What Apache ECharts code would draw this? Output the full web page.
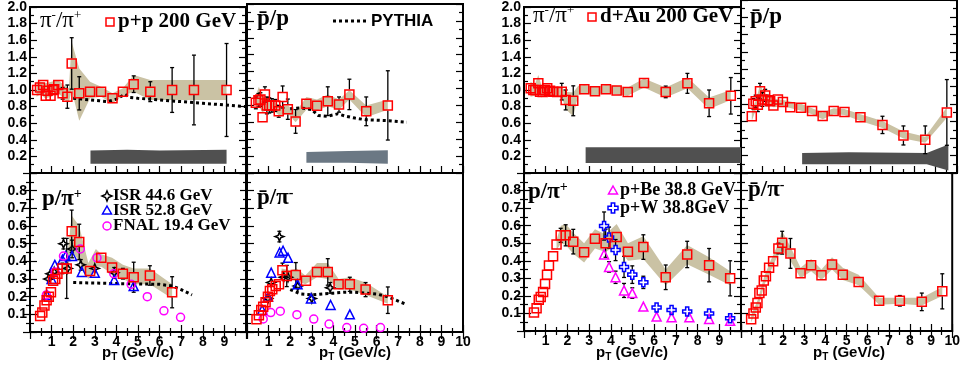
<!DOCTYPE html>
<html>
<head>
<meta charset="utf-8">
<script src="https://cdn.jsdelivr.net/npm/echarts@6/dist/echarts.min.js"></script>
<style>
  html, body { margin: 0; padding: 0; background: #fff; }
  #chart { width: 963px; height: 371px; }
</style>
</head>
<body>
<div id="chart"></div>
<script>
// ---------- data: [pT, ratio, stat error] ----------
// p+p 200 GeV
const ppPiRatio = [[0.33,1.00,0.04],[0.46,1.03,0.05],[0.61,1.06,0.05],[0.73,0.93,0.05],[0.81,0.99,0.05],[0.95,0.93,0.04],[1.05,1.00,0.06],[1.12,1.01,0.05],[1.31,1.06,0.06],[1.51,0.96,0.07],[1.73,0.92,0.14],[1.93,1.32,0.31],[2.28,0.96,0.2],[2.78,0.98,0.02],[3.29,0.98,0.02],[3.82,0.90,0.03],[4.30,0.98,0.04],[4.80,1.07,0.1],[5.57,0.98,0.12],[6.58,1.00,0.27],[7.59,1.00,0.42],[9.10,1.00,0.56]];
const ppPiBandX  = [0.3,0.5,0.7,1.0,1.3,1.6,1.8,1.93,2.28,2.78,3.29,3.82,4.3,4.8,5.57,6.58,7.59,9.1];
const ppPiBandHi = [1.10,1.10,1.08,1.10,1.12,1.05,1.02,1.58,1.26,1.10,1.04,0.96,1.02,1.18,1.12,1.12,1.12,1.12];
const ppPiBandLo = [0.92,0.95,0.90,0.92,0.97,0.88,0.85,1.00,0.63,0.90,0.92,0.84,0.93,0.98,0.88,0.88,0.88,0.88];
const ppPiNormX  = [2.8,4.5,6.0,9.1];
const ppPiNormHi = [0.27,0.28,0.27,0.28];
const ppPiNormLo = [0.11,0.11,0.11,0.11];
const pythiaPi = [[2.0,0.90],[2.4,0.89],[2.8,0.88],[3.2,0.87],[3.6,0.86],[4.0,0.89],[4.4,0.95],[4.6,0.91],[5.0,0.90],[6.0,0.88],[7.0,0.86],[8.0,0.84],[9.0,0.82],[10.0,0.80]];

const ppPbarP = [[0.41,0.83,0.07],[0.53,0.86,0.08],[0.62,0.87,0.08],[0.72,0.66,0.05],[0.83,0.93,0.09],[0.92,0.80,0.1],[1.03,0.80,0.09],[1.15,0.80,0.08],[1.31,0.80,0.07],[1.47,0.73,0.07],[1.65,0.90,0.13],[1.89,0.755,0.12],[2.25,0.61,0.14],[2.75,0.82,0.02],[3.24,0.795,0.02],[3.74,0.85,0.17],[4.26,0.81,0.09],[4.74,0.93,0.18],[5.52,0.73,0.17],[6.52,0.80,0.41]];
const ppPbarPBandX  = [0.41,0.55,0.7,0.9,1.2,1.5,1.9,2.25,2.75,3.24,3.74,4.26,4.74,5.52,6.52];
const ppPbarPBandHi = [0.92,1.02,0.92,0.88,0.86,0.80,0.80,0.72,0.90,0.87,0.93,0.87,0.98,0.80,0.87];
const ppPbarPBandLo = [0.76,0.80,0.72,0.74,0.74,0.68,0.70,0.60,0.75,0.74,0.79,0.75,0.87,0.66,0.75];
const ppPbarPNormX  = [2.75,4.7,6.52];
const ppPbarPNormHi = [0.25,0.26,0.27];
const ppPbarPNormLo = [0.12,0.12,0.11];
const pythiaPbarP = [[2.0,0.76],[2.5,0.77],[3.0,0.75],[3.3,0.68],[3.7,0.67],[4.2,0.70],[4.6,0.67],[5.0,0.65],[5.5,0.63],[6.5,0.62],[7.4,0.60]];

const ppPPi = [[0.47,0.091,0.006],[0.57,0.11,0.006],[0.67,0.15,0.008],[0.77,0.18,0.01],[0.87,0.20,0.01],[0.97,0.225,0.01],[1.07,0.29,0.015],[1.17,0.30,0.015],[1.27,0.33,0.02],[1.5,0.36,0.03],[1.7,0.36,0.17],[1.93,0.57,0.12],[2.28,0.51,0.1],[2.78,0.345,0.02],[3.3,0.42,0.02],[3.8,0.365,0.02],[4.3,0.33,0.03],[4.8,0.31,0.085],[5.55,0.32,0.055],[6.58,0.225,0.088]];
const ppPPiBandX  = [1.45,1.7,1.93,2.28,2.7,3.05,3.3,3.8,4.3,4.8,5.55,6.58];
const ppPPiBandHi = [0.38,0.40,0.66,0.60,0.39,0.47,0.44,0.42,0.38,0.36,0.36,0.27];
const ppPPiBandLo = [0.34,0.34,0.46,0.40,0.30,0.37,0.37,0.33,0.30,0.27,0.27,0.19];
const isr446PPi = [[0.85,0.30,0.02],[0.95,0.33,0.02],[1.12,0.34,0.02],[1.55,0.50,0.03],[1.75,0.36,0.02],[1.95,0.47,0.05],[2.35,0.38,0.03],[3.0,0.36,0.02],[3.9,0.335,0.03]];
const isr528PPi = [[0.78,0.21],[1.0,0.30],[1.15,0.38],[1.5,0.41],[1.65,0.43],[1.95,0.43],[2.4,0.34],[3.0,0.335],[3.9,0.295],[4.8,0.26]];
const fnalPPi = [[0.76,0.21],[1.16,0.34],[1.55,0.43],[2.33,0.47],[3.1,0.42],[3.88,0.33],[4.68,0.27],[5.43,0.20],[6.2,0.12],[6.97,0.083]];
const pythiaPPi = [[2.0,0.28],[3.0,0.277],[4.0,0.274],[5.0,0.272],[6.0,0.27],[6.6,0.26],[7.0,0.24],[7.5,0.21]];

const ppPbarPi = [[0.44,0.072,0.005],[0.55,0.095,0.006],[0.66,0.125,0.008],[0.75,0.143,0.008],[0.86,0.168,0.01],[0.97,0.20,0.01],[1.06,0.232,0.012],[1.17,0.242,0.012],[1.33,0.26,0.015],[1.48,0.27,0.02],[1.64,0.35,0.04],[1.84,0.317,0.06],[2.26,0.323,0.07],[2.73,0.29,0.01],[3.24,0.34,0.01],[3.74,0.34,0.075],[4.24,0.27,0.02],[4.76,0.27,0.04],[5.49,0.24,0.04],[6.52,0.18,0.075]];
const ppPbarPiBandX  = [1.6,2.0,2.3,2.7,3.24,3.74,4.24,4.76,5.49,6.52];
const ppPbarPiBandHi = [0.36,0.35,0.36,0.32,0.39,0.39,0.30,0.31,0.28,0.20];
const ppPbarPiBandLo = [0.32,0.30,0.29,0.27,0.31,0.30,0.24,0.24,0.21,0.16];
const isr446PbarPi = [[0.97,0.19,0.01],[1.12,0.28,0.015],[1.5,0.54,0.03],[1.7,0.31,0.02],[1.9,0.31,0.02],[2.35,0.26,0.02],[3.0,0.19,0.02],[3.85,0.25,0.03]];
const isr528PbarPi = [[0.7,0.125],[0.97,0.20],[1.12,0.336],[1.51,0.45],[1.67,0.46],[1.9,0.42],[2.34,0.27],[2.96,0.19],[3.87,0.153],[4.76,0.10]];
const fnalPbarPi = [[0.75,0.074],[1.1,0.11],[1.54,0.118],[2.31,0.098],[3.09,0.073],[3.8,0.045],[4.62,0.025],[5.4,0.021],[6.18,0.025]];
const pythiaPbarPi = [[2.0,0.24],[2.5,0.215],[3.0,0.21],[3.5,0.215],[4.0,0.22],[4.5,0.225],[5.0,0.225],[5.5,0.22],[6.0,0.215],[6.5,0.20],[7.0,0.175],[7.4,0.155]];

// d+Au 200 GeV
const dAuPiRatio = [[0.31,1.02,0.03],[0.43,1.00,0.03],[0.52,1.00,0.03],[0.66,1.08,0.04],[0.74,0.98,0.03],[0.86,0.975,0.03],[0.97,1.00,0.04],[1.07,1.02,0.05],[1.2,0.99,0.05],[1.35,0.98,0.05],[1.53,0.975,0.05],[1.74,0.98,0.1],[1.92,0.88,0.12],[2.27,0.87,0.18],[2.78,1.01,0.02],[3.27,0.985,0.02],[3.78,1.01,0.02],[4.27,0.995,0.02],[4.78,0.977,0.04],[5.53,1.085,0.05],[6.53,0.977,0.07],[7.53,1.08,0.12],[8.53,0.84,0.16],[9.53,0.93,0.22]];
const dAuPiBandX  = [0.3,0.5,0.66,0.8,1.0,1.3,1.74,1.92,2.27,2.5,2.78,3.27,3.78,4.27,4.78,5.53,6.53,7.53,8.53,9.53];
const dAuPiBandHi = [1.10,1.07,1.18,1.06,1.06,1.04,1.04,0.98,0.97,1.05,1.06,1.04,1.06,1.05,1.03,1.14,1.03,1.15,0.91,1.00];
const dAuPiBandLo = [0.92,0.93,0.98,0.91,0.95,0.93,0.92,0.77,0.68,0.94,0.96,0.93,0.96,0.95,0.93,1.03,0.91,1.02,0.77,0.88];
const dAuPiNormX  = [2.84,10.0];
const dAuPiNormHi = [0.31,0.31];
const dAuPiNormLo = [0.12,0.12];

const dAuPbarP = [[0.5,0.656,0.03],[0.57,0.80,0.06],[0.68,0.83,0.07],[0.78,0.79,0.08],[0.88,0.946,0.09],[0.99,0.85,0.08],[1.12,0.897,0.07],[1.24,0.84,0.06],[1.35,0.83,0.05],[1.5,0.78,0.04],[1.71,0.85,0.05],[1.94,0.82,0.05],[2.28,0.76,0.05],[2.78,0.755,0.02],[3.29,0.716,0.02],[3.78,0.66,0.02],[4.29,0.716,0.04],[4.79,0.705,0.03],[5.53,0.644,0.05],[6.55,0.556,0.1],[7.52,0.434,0.11],[8.53,0.384,0.16],[9.53,0.70,0.38]];
const dAuPbarPBandX  = [0.5,0.7,0.88,1.1,1.5,2.0,2.78,3.29,3.78,4.29,4.79,5.53,6.55,7.52,8.53,9.53];
const dAuPbarPBandHi = [0.72,0.85,1.02,0.92,0.86,0.84,0.80,0.75,0.70,0.75,0.74,0.68,0.60,0.48,0.42,0.76];
const dAuPbarPBandLo = [0.60,0.74,0.82,0.82,0.76,0.77,0.72,0.68,0.62,0.68,0.67,0.60,0.52,0.40,0.35,0.64];
const dAuPbarPNormX  = [2.83,5.0,8.6,9.6];
const dAuPbarPNormHi = [0.23,0.24,0.23,0.33];
const dAuPbarPNormLo = [0.10,0.10,0.10,0.03];

const dAuPPi = [[0.46,0.105,0.005],[0.58,0.13,0.006],[0.68,0.178,0.008],[0.77,0.193,0.008],[0.88,0.222,0.01],[0.97,0.268,0.01],[1.06,0.321,0.012],[1.15,0.373,0.015],[1.34,0.426,0.02],[1.5,0.493,0.025],[1.69,0.545,0.04],[1.92,0.545,0.06],[2.27,0.509,0.07],[2.77,0.449,0.01],[3.27,0.526,0.01],[3.76,0.50,0.08],[4.27,0.535,0.02],[4.79,0.451,0.02],[5.5,0.478,0.07],[6.53,0.306,0.07],[7.52,0.436,0.075],[8.53,0.375,0.095],[9.5,0.30,0.1]];
const dAuPPiBandX  = [1.5,1.7,1.92,2.27,2.77,3.27,3.76,4.27,4.79,5.5,6.53,7.52,8.53,9.5];
const dAuPPiBandHi = [0.52,0.60,0.61,0.56,0.50,0.58,0.55,0.61,0.50,0.54,0.35,0.49,0.42,0.34];
const dAuPPiBandLo = [0.46,0.50,0.49,0.44,0.39,0.47,0.45,0.49,0.40,0.41,0.26,0.38,0.32,0.26];
const pBePPi = [[3.69,0.436,0.02],[3.92,0.365,0.03],[4.22,0.306,0.035],[4.61,0.231,0.04],[4.99,0.216,0.03],[5.5,0.139,0.01],[6.11,0.082,0.005],[6.8,0.078,0.005],[7.62,0.078,0.005],[8.53,0.069,0.005],[9.5,0.058,0.005]];
const pWPPi = [[3.69,0.598,0.08],[3.92,0.532,0.06],[4.22,0.461,0.06],[4.61,0.365,0.06],[4.99,0.321,0.05],[5.5,0.277,0.035],[6.11,0.134,0.01],[6.8,0.12,0.01],[7.52,0.111,0.01],[8.53,0.10,0.01],[9.5,0.073,0.01]];

const dAuPbarPi = [[0.48,0.067,0.004],[0.59,0.10,0.005],[0.70,0.134,0.006],[0.78,0.159,0.007],[0.87,0.216,0.008],[0.98,0.23,0.01],[1.08,0.287,0.01],[1.18,0.312,0.012],[1.33,0.36,0.015],[1.52,0.398,0.02],[1.77,0.47,0.03],[1.95,0.503,0.065],[2.34,0.442,0.085],[2.82,0.329,0.005],[3.32,0.375,0.005],[3.81,0.317,0.005],[4.31,0.379,0.01],[4.82,0.321,0.005],[5.57,0.279,0.005],[6.54,0.172,0.015],[7.52,0.172,0.03],[8.56,0.166,0.05],[9.53,0.226,0.1]];
const dAuPbarPiBandX  = [0.48,0.8,1.1,1.4,1.7,1.95,2.34,2.82,3.32,3.81,4.31,4.82,5.57,6.54,7.52,8.56,9.53];
const dAuPbarPiBandHi = [0.09,0.18,0.31,0.40,0.48,0.57,0.48,0.36,0.41,0.35,0.42,0.36,0.32,0.19,0.19,0.19,0.25];
const dAuPbarPiBandLo = [0.05,0.13,0.26,0.34,0.42,0.46,0.40,0.30,0.34,0.29,0.35,0.29,0.26,0.15,0.155,0.145,0.20];

const xTickMax = [0, 0, 9, 10, 0, 0, 9, 10];   // last x label shown per panel

// ---------- layout ----------
const grids = [
  { left: 30,  top: 4,   width: 216, height: 169 },
  { left: 247, top: 4,   width: 216, height: 169 },
  { left: 30,  top: 173, width: 216, height: 159 },
  { left: 247, top: 173, width: 216, height: 159 },
  { left: 524, top: 0,   width: 217, height: 173 },
  { left: 741, top: 0,   width: 216, height: 173 },
  { left: 524, top: 173, width: 217, height: 158 },
  { left: 741, top: 173, width: 216, height: 158 }
];
const isTop = i => i === 0 || i === 1 || i === 4 || i === 5;
const hasYLabels = i => i % 2 === 0;

const BAND = '#cac2a4';
const RED = '#ff0000', BLUE = '#0000ff', MAG = '#ff00ff';
const STAR = 'path://M5,0L6.4,3.6L10,5L6.4,6.4L5,10L3.6,6.4L0,5L3.6,3.6Z';
const CROSS = 'path://M3.3,0H6.7V3.3H10V6.7H6.7V10H3.3V6.7H0V3.3H3.3Z';
const tickFont = { fontFamily: 'Liberation Sans', fontWeight: 'bold', fontSize: 14, color: '#000' };

const xAxes = [], yAxes = [];
grids.forEach((g, i) => {
  xAxes.push({
    gridIndex: i, type: 'value', min: 0, max: 10, interval: 1, position: 'bottom',
    axisLine: { lineStyle: { color: '#000', width: 2 } },
    axisTick: { inside: true, length: 7, lineStyle: { color: '#000', width: 1.2 } },
    minorTick: { show: true, splitNumber: 2, length: 4, lineStyle: { color: '#000', width: 1.2 } },
    splitLine: { show: false },
    axisLabel: Object.assign({ show: !isTop(i), margin: 3,
      formatter: v => (v >= 1 && v <= xTickMax[i]) ? String(v) : '' }, tickFont)
  });
});
// ticks on the top edge of the lower panels
[2, 3, 6, 7].forEach(i => {
  xAxes.push({
    gridIndex: i, type: 'value', min: 0, max: 10, interval: 1, position: 'top',
    axisLine: { show: false },
    axisTick: { inside: true, length: 7, lineStyle: { color: '#000', width: 1.2 } },
    minorTick: { show: true, splitNumber: 2, length: 4, lineStyle: { color: '#000', width: 1.2 } },
    splitLine: { show: false }, axisLabel: { show: false }
  });
});
function yAxis(i, pos) {
  const top = isTop(i);
  return {
    gridIndex: i, type: 'value', position: pos,
    min: 0, max: top ? 2 : 0.9, interval: top ? 0.2 : 0.1,
    axisLine: { show: true, lineStyle: { color: '#000', width: 2 } },
    axisTick: { inside: true, length: 7, lineStyle: { color: '#000', width: 1.2 } },
    minorTick: { show: true, splitNumber: 2, length: 4, lineStyle: { color: '#000', width: 1.2 } },
    splitLine: { show: false },
    axisLabel: Object.assign({ show: pos === 'left' && hasYLabels(i), margin: 3,
      formatter: v => (v < 0.05 || (!top && v > 0.85)) ? '' : v.toFixed(1) }, tickFont)
  };
}
grids.forEach((g, i) => yAxes.push(yAxis(i, 'left')));
grids.forEach((g, i) => yAxes.push(yAxis(i, 'right')));

// ---------- series helpers ----------
function band(i, xs, hi, lo, color) {
  return {
    type: 'custom', xAxisIndex: i, yAxisIndex: i, data: [[0, 0]], z: 1, silent: true, clip: true,
    renderItem: (params, api) => {
      const pts = xs.map((x, k) => api.coord([x, hi[k]]));
      for (let k = xs.length - 1; k >= 0; k--) pts.push(api.coord([xs[k], lo[k]]));
      return { type: 'polygon', shape: { points: pts }, style: { fill: color } };
    }
  };
}
function errors(i, pts, color) {
  return {
    type: 'custom', xAxisIndex: i, yAxisIndex: i, data: pts, z: 4, silent: true, clip: true,
    renderItem: (params, api) => {
      const x = api.value(0), y = api.value(1), e = api.value(2);
      const c = api.coord([x, y]), t = api.coord([x, y + e]), b = api.coord([x, y - e]);
      const st = { stroke: color, lineWidth: 1.3 };
      const kids = [];
      if (c[1] - t[1] > 5) {
        kids.push({ type: 'line', shape: { x1: t[0], y1: t[1], x2: t[0], y2: c[1] - 5 }, style: st });
        kids.push({ type: 'line', shape: { x1: t[0] - 2, y1: t[1], x2: t[0] + 2, y2: t[1] }, style: st });
      }
      if (b[1] - c[1] > 5) {
        kids.push({ type: 'line', shape: { x1: b[0], y1: c[1] + 5, x2: b[0], y2: b[1] }, style: st });
        kids.push({ type: 'line', shape: { x1: b[0] - 2, y1: b[1], x2: b[0] + 2, y2: b[1] }, style: st });
      }
      return { type: 'group', children: kids };
    }
  };
}
function marks(i, pts, symbol, color, size) {
  return {
    type: 'scatter', xAxisIndex: i, yAxisIndex: i, data: pts, symbol: symbol, symbolSize: size,
    z: 5, silent: true,
    itemStyle: { color: 'rgba(0,0,0,0)', borderColor: color, borderWidth: 1.5, opacity: 1 }
  };
}
function pythia(i, pts) {
  return {
    type: 'line', xAxisIndex: i, yAxisIndex: i, data: pts, showSymbol: false, z: 3, silent: true,
    lineStyle: { color: '#000', width: 3, type: [3, 3] }
  };
}

const series = [
  band(0, ppPiBandX, ppPiBandHi, ppPiBandLo, BAND),
  band(0, ppPiNormX, ppPiNormHi, ppPiNormLo, '#505050'),
  pythia(0, pythiaPi),
  errors(0, ppPiRatio, '#000'),
  marks(0, ppPiRatio, 'rect', RED, 9),

  band(1, ppPbarPBandX, ppPbarPBandHi, ppPbarPBandLo, BAND),
  band(1, ppPbarPNormX, ppPbarPNormHi, ppPbarPNormLo, '#6b7884'),
  pythia(1, pythiaPbarP),
  errors(1, ppPbarP, '#000'),
  marks(1, ppPbarP, 'rect', RED, 9),

  band(2, ppPPiBandX, ppPPiBandHi, ppPPiBandLo, BAND),
  pythia(2, pythiaPPi),
  errors(2, ppPPi, '#000'),
  errors(2, isr446PPi, '#000'),
  marks(2, isr446PPi, STAR, '#000', 9),
  marks(2, isr528PPi, 'triangle', BLUE, 9),
  marks(2, fnalPPi, 'circle', MAG, 8),
  marks(2, ppPPi, 'rect', RED, 9),

  band(3, ppPbarPiBandX, ppPbarPiBandHi, ppPbarPiBandLo, BAND),
  pythia(3, pythiaPbarPi),
  errors(3, ppPbarPi, '#000'),
  errors(3, isr446PbarPi, '#000'),
  marks(3, isr446PbarPi, STAR, '#000', 9),
  marks(3, isr528PbarPi, 'triangle', BLUE, 9),
  marks(3, fnalPbarPi, 'circle', MAG, 8),
  marks(3, ppPbarPi, 'rect', RED, 9),

  band(4, dAuPiBandX, dAuPiBandHi, dAuPiBandLo, BAND),
  band(4, dAuPiNormX, dAuPiNormHi, dAuPiNormLo, '#505050'),
  errors(4, dAuPiRatio, '#000'),
  marks(4, dAuPiRatio, 'rect', RED, 9),

  band(5, dAuPbarPBandX, dAuPbarPBandHi, dAuPbarPBandLo, BAND),
  band(5, dAuPbarPNormX, dAuPbarPNormHi, dAuPbarPNormLo, '#505050'),
  errors(5, dAuPbarP, '#000'),
  marks(5, dAuPbarP, 'rect', RED, 9),

  band(6, dAuPPiBandX, dAuPPiBandHi, dAuPPiBandLo, BAND),
  errors(6, dAuPPi, '#000'),
  errors(6, pBePPi, '#000'),
  errors(6, pWPPi, '#000'),
  marks(6, pBePPi, 'triangle', MAG, 9),
  marks(6, pWPPi, CROSS, BLUE, 9),
  marks(6, dAuPPi, 'rect', RED, 9),

  band(7, dAuPbarPiBandX, dAuPbarPiBandHi, dAuPbarPiBandLo, BAND),
  errors(7, dAuPbarPi, '#000'),
  marks(7, dAuPbarPi, 'rect', RED, 9)
];

// ---------- text labels ----------
const SERIF = 'Liberation Serif';
const richSet = {
  m: { fontFamily: SERIF, fontSize: 23, fontWeight: 'bold', color: '#000' },
  r: { fontFamily: SERIF, fontSize: 23, color: '#000' },
  s: { fontFamily: SERIF, fontSize: 14, fontWeight: 'bold', color: '#000', padding: [0, 0, 10, 0] },
  sr: { fontFamily: SERIF, fontSize: 13, color: '#000', padding: [0, 0, 10, 0] },
  a: { fontFamily: 'Liberation Sans', fontSize: 15, fontWeight: 'bold', color: '#000' },
  b: { fontFamily: 'Liberation Sans', fontSize: 10, fontWeight: 'bold', color: '#000', padding: [8, 0, 0, 0] }
};
function rt(x, y, text, align) {
  return { type: 'text', x: x, y: y, z: 100,
    style: { text: text, rich: richSet, verticalAlign: 'middle', align: align || 'left' } };
}
function txt(x, y, text, size, family) {
  return { type: 'text', x: x, y: y, z: 100,
    style: { text: text, fontFamily: family || SERIF, fontWeight: 'bold', fontSize: size,
      fill: '#000', verticalAlign: 'middle' } };
}
const sq = (cx, cy) => ({ type: 'rect', z: 100, shape: { x: cx - 4, y: cy - 4, width: 8, height: 8 },
  style: { fill: 'none', stroke: RED, lineWidth: 1.5 } });
const poly = (pts, color) => ({ type: 'polygon', z: 100, shape: { points: pts },
  style: { fill: 'none', stroke: color, lineWidth: 1.5 } });

const graphic = [
  rt(40, 21, '{r|π}{sr|-}{r|/π}{sr|+}'),
  sq(110, 22), txt(118, 22, 'p+p 200 GeV', 21),
  rt(257, 19, '{m|p\u0304/p}'),
  { type: 'line', z: 100, shape: { x1: 333, y1: 21, x2: 367, y2: 21 },
    style: { stroke: '#000', lineWidth: 3, lineDash: [3, 3] } },
  txt(371, 21, 'PYTHIA', 17, 'Liberation Sans'),

  rt(42, 199, '{m|p/π}{s|+}'),
  poly([[107, 191], [108.5, 194.5], [112, 196], [108.5, 197.5], [107, 201], [105.5, 197.5], [102, 196], [105.5, 194.5]], '#000'),
  txt(113, 196, 'ISR 44.6 GeV', 17),
  poly([[107, 206], [111.5, 214], [102.5, 214]], BLUE),
  txt(113, 211, 'ISR 52.8 GeV', 17),
  { type: 'circle', z: 100, shape: { cx: 107, cy: 226, r: 4 }, style: { fill: 'none', stroke: MAG, lineWidth: 1.5 } },
  txt(113, 226, 'FNAL 19.4 GeV', 17),
  rt(257, 198, '{m|p\u0304/π}{s|-}'),

  rt(533, 16, '{r|π}{sr|-}{r|/π}{sr|+}'),
  sq(592, 17), txt(600, 17, 'd+Au 200 GeV', 21),
  rt(750, 17, '{m|p\u0304/p}'),
  rt(528, 192, '{m|p/π}{s|+}'),
  poly([[613, 186], [617.5, 194], [608.5, 194]], MAG),
  txt(620, 190, 'p+Be 38.8 GeV', 18),
  poly([[611.3, 203], [614.7, 203], [614.7, 206.3], [618, 206.3], [618, 209.7], [614.7, 209.7], [614.7, 213], [611.3, 213], [611.3, 209.7], [608, 209.7], [608, 206.3], [611.3, 206.3]], BLUE),
  txt(620, 208, 'p+W 38.8GeV', 18),
  rt(748, 190, '{m|p\u0304/π}{s|-}'),

  rt(138, 353, '{a|p}{b|T}{a| (GeV/c)}', 'center'),
  rt(355, 353, '{a|p}{b|T}{a| (GeV/c)}', 'center'),
  rt(632, 353, '{a|p}{b|T}{a| (GeV/c)}', 'center'),
  rt(849, 353, '{a|p}{b|T}{a| (GeV/c)}', 'center')
];

const chart = echarts.init(document.getElementById('chart'), null, { renderer: 'canvas' });
chart.setOption({
  animation: false,
  backgroundColor: '#fff',
  grid: grids.map(g => Object.assign({ show: true, borderColor: '#000', borderWidth: 2,
    backgroundColor: 'transparent', containLabel: false }, g)),
  xAxis: xAxes,
  yAxis: yAxes,
  series: series,
  graphic: graphic
});
</script>
</body>
</html>
